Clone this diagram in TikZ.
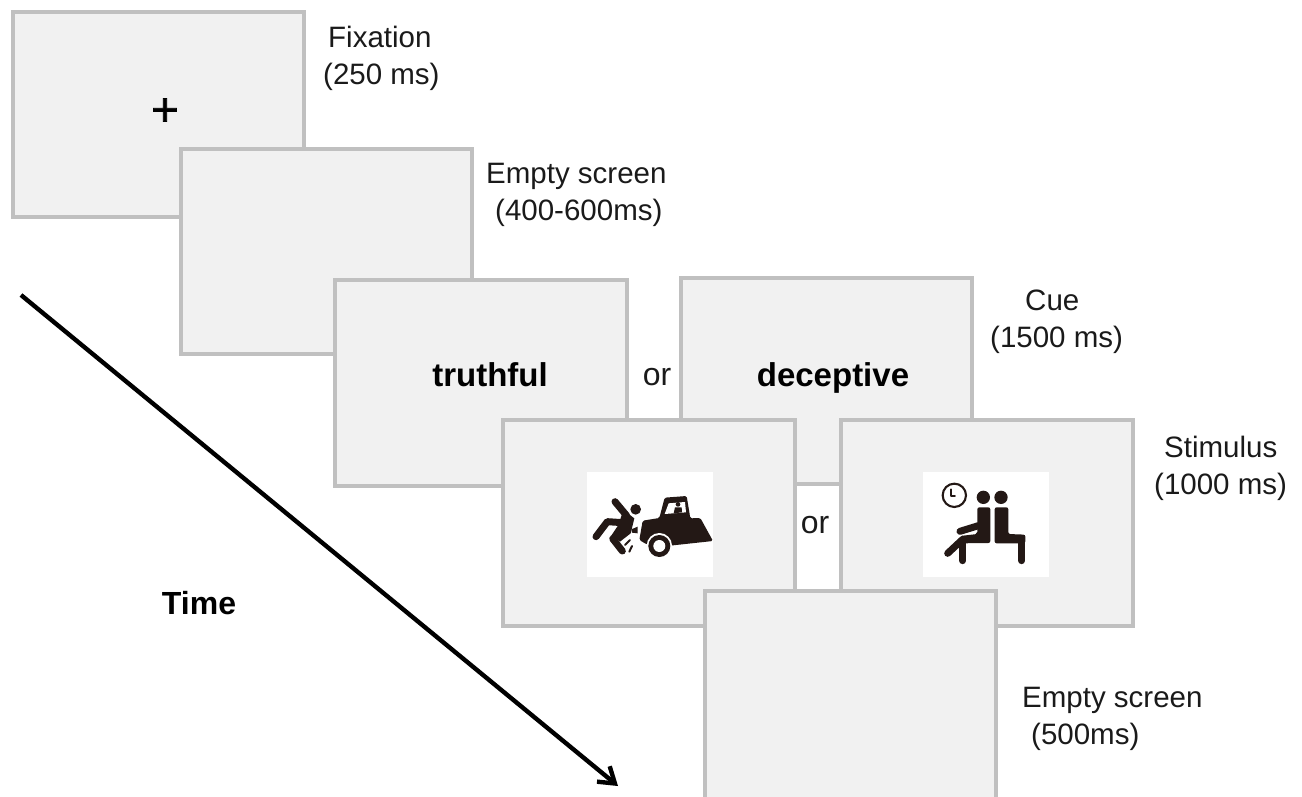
\documentclass[tikz,border=0pt]{standalone}
\usepackage{fontspec}
\setmainfont{Liberation Sans}
\newfontfamily\plusfont[FakeBold=1.6]{Liberation Sans}
\usetikzlibrary{arrows.meta}
\tikzset{
  screen/.style={draw=boxgray,fill=boxfill,line width=4pt,line join=miter},
  lab/.style={text=ink,inner sep=0pt,align=left,anchor=north west,font=\fontsize{29.5}{37}\selectfont},
  strong/.style={text=black,inner sep=0pt,anchor=base,font=\fontsize{33}{38}\bfseries\selectfont},
  ortext/.style={text=ink,inner sep=0pt,anchor=base,font=\fontsize{32}{38}\selectfont},
  iconbg/.style={fill=white,draw=none},
  ic/.style={fill=iconink,draw=none},
  icl/.style={draw=iconink,line cap=round,line join=round},
}
\definecolor{boxgray}{HTML}{C0C0C0}
\definecolor{boxfill}{HTML}{F1F1F1}
\definecolor{ink}{HTML}{1A1A1A}
\definecolor{iconink}{HTML}{231815}
\begin{document}
\begin{tikzpicture}[x=1pt,y=-1pt]
\useasboundingbox (0,0) rectangle (1302,797);
% screens
\draw[screen] (13,12) rectangle (304,217);
\node[inner sep=0pt,text=black,font=\plusfont\fontsize{47}{47}\selectfont] (plus) at (165,112) {+};
\draw[screen] (181,149) rectangle (472,354);
\draw[screen] (335,280) rectangle (627,486);
\draw[screen] (681,278) rectangle (972,484);
\draw[screen] (503,420) rectangle (795,626);
\draw[screen] (841,420) rectangle (1133,626);
\draw[screen] (705,591) rectangle (996,800);
% words
\node[strong] (truthful) at (490,386) {truthful};
\node[strong] (deceptive) at (833,386) {deceptive};
\node[ortext] (or1) at (657,385) {or};
\node[ortext] (or2) at (815,533) {or};
\node[strong,font=\fontsize{32}{38}\bfseries\selectfont] (time) at (199,614) {Time};
% labels
\node[lab] (l1) at (323,26) {\hspace*{5pt}Fixation\\(250 ms)};
\node[lab] (l2) at (486,163) {Empty screen\\\hspace*{9pt}(400-600ms)};
\node[lab] (l3) at (990,290) {\hspace*{35pt}Cue\\(1500 ms)};
\node[lab] (l4) at (1154,436) {\hspace*{10pt}Stimulus\\(1000 ms)};
\node[lab] (l5) at (1022,687) {Empty screen\\\hspace*{9pt}(500ms)};
% time arrow
\coordinate (arrowstart) at (21,295);
\coordinate (arrowend) at (618,786);
\draw[line width=4.4pt,draw=black,-{Straight Barb[length=15pt,width=20pt,line width=4.4pt]}] (arrowstart) -- (arrowend);
% icon 1: loader hitting a person
\begin{scope}[shift={(570,450)},x=0.33333pt,y=-0.33333pt]
\fill[iconbg] (52,66) rectangle (428,382);
\fill[ic,rounded corners=1.5pt] (218,212) -- (268,204) -- (284,143) -- (350,138) -- (361,205) -- (391,204) -- (429,273) -- (300,287) -- (230,283) -- (208,270) -- cycle;
\fill[white] (296,160) -- (345,156) -- (348,187) -- (284,192) -- cycle;
\fill[ic] (324,163) circle (7);
\fill[ic] (311,190) -- (315,172) -- (335,172) -- (336,187) -- cycle;
\fill[white] (268,287) circle (38);
\fill[ic] (268,288) circle (33);
\fill[white] (268,288) circle (18);
% person
\fill[ic] (197,178) circle (16);
\draw[icl,line width=7pt] (135,155) -- (170,197);
\fill[ic] (160,180) -- (193,205) -- (182,250) -- (150,275) -- (125,255) -- (145,225) -- cycle;
\draw[icl,line width=7pt] (158,218) -- (112,215) -- (78,260);
\draw[icl,line width=7pt] (150,255) -- (128,266) -- (157,303);
\fill[ic] (184,238) -- (203,230) -- (203,250) -- (186,248) -- cycle;
\draw[icl,line width=2pt] (165,285) -- (180,270);
\draw[icl,line width=2pt] (178,305) -- (186,288);
\end{scope}
% icon 2: two seated people and a clock
\begin{scope}[shift={(910,460)},x=0.33333pt,y=-0.33333pt]
\fill[iconbg] (40,36) rectangle (416,352);
\draw[icl,line width=2.1pt] (133,106) circle (35);
\draw[icl,line width=1.8pt] (122,88) -- (122,107) -- (135,107);
\fill[ic] (220,112) circle (20);
\fill[ic] (273,112) circle (20);
\fill[ic,rounded corners=2pt] (202,142) -- (241,142) -- (241,249) -- (150,250) -- (150,228) -- (202,222) -- cycle;
\draw[icl,line width=7pt] (150,214) -- (205,197);
\draw[icl,line width=7pt] (158,238) -- (113,280);
\draw[icl,line width=7pt] (158,245) -- (158,302);
\fill[ic,rounded corners=2pt] (254,142) -- (295,142) -- (295,222) -- (346,224) -- (346,250) -- (254,250) -- cycle;
\draw[icl,line width=7pt] (335,235) -- (335,302);
\end{scope}
\end{tikzpicture}
\end{document}
